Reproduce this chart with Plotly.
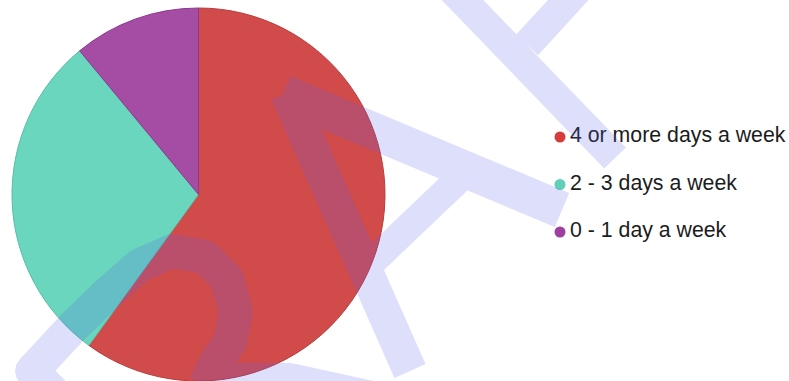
import math
import plotly.graph_objects as go

# Survey answers: how many days a week
labels = ["4 or more days a week", "2 - 3 days a week", "0 - 1 day a week"]
shares = [60, 29, 11]
slice_colors = ["#d24b4b", "#6ad6bd", "#a54ca5"]
edge_colors = ["#b83c3c", "#58bfa6", "#8a3a8c"]
marker_colors = ["#d63c3c", "#5fd0b6", "#9c3fa0"]

W, H = 789, 381

fig = go.Figure()

fig.add_trace(go.Pie(
    labels=labels,
    values=shares,
    sort=False,
    direction="clockwise",
    rotation=0,
    textinfo="none",
    hoverinfo="label+percent",
    showlegend=False,
    marker=dict(colors=slice_colors, line=dict(color=edge_colors, width=1)),
    domain=dict(x=[12 / W, 385 / W], y=[0, 1 - 8 / H]),
))

# Legend: a dot and a label for each category, one row per index
rows = list(range(len(labels)))
fig.add_trace(go.Scatter(
    x=[0] * len(labels), y=rows,
    mode="markers",
    marker=dict(symbol="circle", size=11, color=marker_colors),
    hoverinfo="skip", showlegend=False, cliponaxis=False,
))
fig.add_trace(go.Scatter(
    x=[10] * len(labels), y=rows,
    mode="text",
    text=labels,
    textposition="middle right",
    textfont=dict(family="Liberation Sans, Arial, sans-serif", size=21.3, color="#1c1c1c"),
    hoverinfo="skip", showlegend=False, cliponaxis=False,
))

# Axis scaling for the legend rows: 47.5 px per row, first row 137 px from top
row_px, first_px, dot_px = 47.5, 137, 560
fig.update_xaxes(visible=False, range=[-dot_px, W - dot_px], fixedrange=True)
fig.update_yaxes(visible=False, range=[(H - first_px) / row_px, -first_px / row_px], fixedrange=True)


# Background stamp: thick translucent strokes, merged into one filled path
def stroke(points, width):
    polys = []
    h = width / 2
    for (x0, y0), (x1, y1) in zip(points[:-1], points[1:]):
        dx, dy = x1 - x0, y1 - y0
        L = math.hypot(dx, dy)
        nx, ny = -dy / L * h, dx / L * h
        polys.append([(x0 + nx, y0 + ny), (x1 + nx, y1 + ny), (x1 - nx, y1 - ny), (x0 - nx, y0 - ny)])
    for (x, y) in points[1:-1]:
        polys.append([(x + h * math.cos(-a * math.pi / 8), y + h * math.sin(-a * math.pi / 8)) for a in range(16)])
    return polys


strokes = [
    ([(448, -15), (615, 158)], 30),
    ([(582, -15), (527, 45)], 30),
    ([(283, 93), (562, 210)], 37),
    ([(287, 93), (410, 371)], 34),
    ([(372, 262), (458, 180)], 28),
    ([(80, 420), (32, 371), (72, 328), (108, 293), (140, 265), (172, 251), (205, 257),
      (227, 279), (236, 312), (230, 342), (216, 362), (205, 385)], 34),
    ([(208, 379), (290, 380), (390, 402)], 34),
]

parts = []
for pts, w in strokes:
    for poly in stroke(pts, w):
        seg = " L ".join(f"{px / W:.5f} {1 - py / H:.5f}" for px, py in poly)
        parts.append(f"M {seg} Z")

fig.add_shape(
    type="path",
    path=" ".join(parts),
    xref="paper", yref="paper",
    fillcolor="rgb(85,95,235)",
    fillrule="nonzero",
    line=dict(width=0),
    opacity=0.2,
    layer="above",
)

fig.update_layout(
    width=W, height=H,
    margin=dict(l=0, r=0, t=0, b=0),
    paper_bgcolor="white",
    plot_bgcolor="white",
    showlegend=False,
)

fig.write_html("out.html")
